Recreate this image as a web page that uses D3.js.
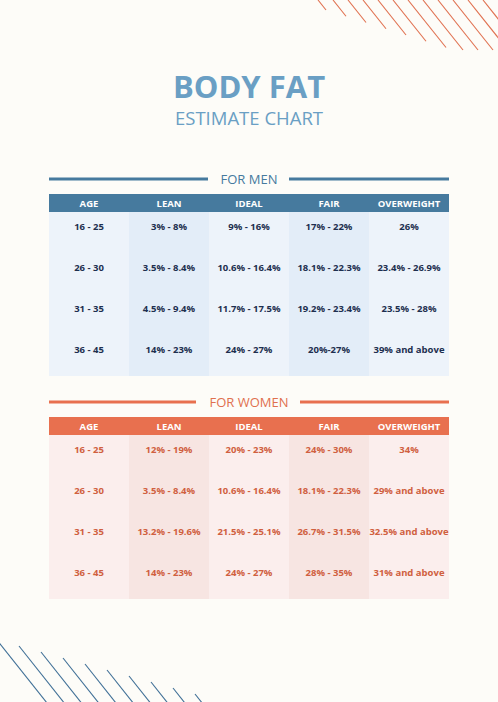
<!DOCTYPE html><html><head><meta charset="utf-8">
<script src="https://cdn.jsdelivr.net/npm/d3@7"></script>
<style>body{margin:0;background:#fdfcf8}svg{display:block}text{font-family:"Open Sans",sans-serif}</style></head><body>
<script>
const columns=["AGE","LEAN","IDEAL","FAIR","OVERWEIGHT"];
const ages=["16 - 25","26 - 30","31 - 35","36 - 45"];
const menLean=["3% - 8%","3.5% - 8.4%","4.5% - 9.4%","14% - 23%"];
const menIdeal=["9% - 16%","10.6% - 16.4%","11.7% - 17.5%","24% - 27%"];
const menFair=["17% - 22%","18.1% - 22.3%","19.2% - 23.4%","20%-27%"];
const menOver=["26%","23.4% - 26.9%","23.5% - 28%","39% and above"];
const womenLean=["12% - 19%","3.5% - 8.4%","13.2% - 19.6%","14% - 23%"];
const womenIdeal=["20% - 23%","10.6% - 16.4%","21.5% - 25.1%","24% - 27%"];
const womenFair=["24% - 30%","18.1% - 22.3%","26.7% - 31.5%","28% - 35%"];
const womenOver=["34%","29% and above","32.5% and above","31% and above"];

const W=498,H=702;
const svg=d3.select("body").append("svg").attr("width",W).attr("height",H);
svg.append("rect").attr("width",W).attr("height",H).attr("fill","#fdfcf8");

// decorative stripes
const topStripes=d3.range(0,12);
svg.append("g").selectAll("line").data(topStripes).join("line")
 .attr("x1",i=>318+i*15).attr("y1",0)
 .attr("x2",i=>318+i*15+Math.min(40,8+i*5)).attr("y2",i=>Math.min(40,8+i*5)*1.25)
 .attr("stroke","#e0704f").attr("stroke-width",1.1);
const botStripes=d3.range(0,10);
svg.append("g").selectAll("line").data(botStripes).join("line")
 .attr("x1",i=>i*22-3).attr("y1",i=>640+i*6)
 .attr("x2",i=>i*22-3+50).attr("y2",i=>640+i*6+63)
 .attr("stroke","#3f6f96").attr("stroke-width",1.1);

svg.append("text").attr("x",249).attr("y",98).attr("text-anchor","middle")
 .attr("font-size",31).attr("font-weight",700).attr("fill","#6a9fc4").text("BODY FAT");
svg.append("text").attr("x",249).attr("y",125).attr("text-anchor","middle")
 .attr("font-size",18.5).attr("fill","#6a9fc4").text("ESTIMATE CHART");

const x=d3.scaleBand().domain(columns).range([49,449]);
function table(cfg){
  const g=svg.append("g");
  g.append("line").attr("x1",49).attr("x2",cfg.l1).attr("y1",cfg.ty).attr("y2",cfg.ty).attr("stroke",cfg.head).attr("stroke-width",3);
  g.append("line").attr("x1",cfg.l2).attr("x2",449).attr("y1",cfg.ty).attr("y2",cfg.ty).attr("stroke",cfg.head).attr("stroke-width",3);
  g.append("text").attr("x",249).attr("y",cfg.ty+5).attr("text-anchor","middle").attr("font-size",13).attr("fill",cfg.title).text(cfg.name);
  const y=d3.scaleBand().domain(ages).range([cfg.hy+18,cfg.hy+182]);
  g.selectAll(".col").data(columns).join("rect").attr("x",d=>x(d)).attr("width",x.bandwidth())
   .attr("y",cfg.hy+18).attr("height",164).attr("fill",(d,i)=>i%2?cfg.b2:cfg.b1);
  g.append("rect").attr("x",49).attr("width",400).attr("y",cfg.hy).attr("height",18).attr("fill",cfg.head);
  g.selectAll(".h").data(columns).join("text").attr("x",d=>x(d)+x.bandwidth()/2).attr("y",cfg.hy+13)
   .attr("text-anchor","middle").attr("font-size",9.5).attr("font-weight",700).attr("fill","#fff").text(d=>d);
  const data=cfg.cols;
  columns.forEach((c,ci)=>{
    g.selectAll(".c"+ci).data(data[ci]).join("text").attr("x",x(c)+x.bandwidth()/2)
     .attr("y",(d,ri)=>y(ages[ri])+y.bandwidth()/2-3).attr("text-anchor","middle")
     .attr("font-size",9.5).attr("font-weight",700).attr("fill",cfg.txt).text(d=>d);
  });
}
table({name:"FOR MEN",ty:179,l1:208,l2:289,hy:194,head:"#467a9e",title:"#467a9e",b1:"#edf3fa",b2:"#e3edf8",txt:"#1d2f4f",
 cols:[ages,menLean,menIdeal,menFair,menOver]});
table({name:"FOR WOMEN",ty:402,l1:196,l2:300,hy:417,head:"#e8704f",title:"#e0704f",b1:"#fbeeed",b2:"#f7e5e2",txt:"#d0603f",
 cols:[ages,womenLean,womenIdeal,womenFair,womenOver]});
</script></body></html>
